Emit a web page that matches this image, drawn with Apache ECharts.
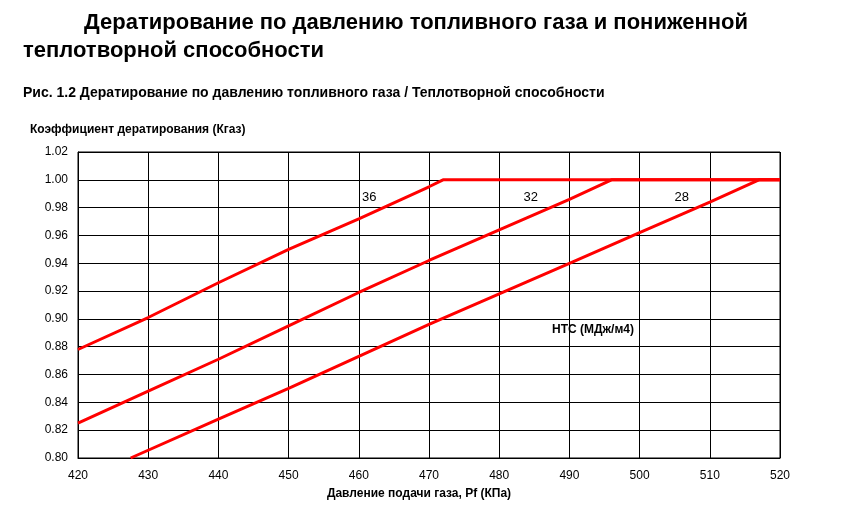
<!DOCTYPE html>
<html><head><meta charset="utf-8">
<script src="https://cdn.jsdelivr.net/npm/echarts@6/dist/echarts.min.js"></script>
<style>body{margin:0;background:#fff}#c{width:842px;height:520px}</style>
</head><body><div id="c"></div>
<script>
// НТС 36, 32, 28 — [давление, Кгаз]
let hts36 = [[420, 0.878], [430, 0.901], [440, 0.926], [450, 0.950], [460, 0.972], [470, 0.995], [472, 1.0], [520, 1.0]];
let hts32 = [[420, 0.825], [430, 0.848], [440, 0.871], [450, 0.895], [460, 0.919], [470, 0.942], [480, 0.964], [490, 0.986], [496, 1.0], [520, 1.0]];
let hts28 = [[427.5, 0.80], [440, 0.828], [450, 0.850], [460, 0.873], [470, 0.896], [480, 0.918], [490, 0.940], [500, 0.962], [510, 0.984], [517, 1.0], [520, 1.0]];
let curveNames = ['36', '32', '28'];
let labelAt = [[461.5, 0.987], [484.5, 0.987], [506, 0.987]];

let chart = echarts.init(document.getElementById('c'));
let font = 'Liberation Sans, Arial, sans-serif';

function mkSeries(data, i) {
    return {
        type: 'line', data: data, symbol: 'none', silent: true,
        lineStyle: { color: '#ff0000', width: 3 },
        markPoint: {
            symbol: 'circle', symbolSize: 1,
            itemStyle: { color: 'transparent' },
            label: { show: true, position: 'inside', color: '#000', fontSize: 13, fontFamily: font, formatter: curveNames[i] },
            data: [{ coord: labelAt[i] }]
        }
    };
}

chart.setOption({
    animation: false,
    backgroundColor: '#fff',
    title: [{
        text: '          Дератирование по давлению топливного газа и пониженной\nтеплотворной способности',
        left: 18, top: 4,
        textStyle: { fontSize: 22, fontWeight: 'bold', fontFamily: font, color: '#000', lineHeight: 28 }
    }, {
        text: 'Рис. 1.2 Дератирование по давлению топливного газа / Теплотворной способности',
        left: 18, top: 81,
        textStyle: { fontSize: 14, fontWeight: 'bold', fontFamily: font, color: '#000' }
    }],
    grid: { left: 78, right: 62, top: 152, bottom: 62, show: true, borderColor: '#000', borderWidth: 1 },
    xAxis: {
        type: 'value', min: 420, max: 520, interval: 10,
        name: 'Давление подачи газа, Pf (КПа)', nameLocation: 'middle', nameGap: 30,
        nameTextStyle: { fontSize: 12, fontWeight: 'bold', fontFamily: font, color: '#000', padding: [0, 0, 0, -20] },
        axisLine: { lineStyle: { color: '#000' } },
        axisTick: { show: false },
        axisLabel: { fontSize: 12, fontFamily: font, color: '#000', margin: 12 },
        splitLine: { lineStyle: { color: '#000', width: 1 } }
    },
    yAxis: {
        type: 'value', min: 0.8, max: 1.02, interval: 0.02,
        name: 'Коэффициент дератирования (Кгаз)', nameLocation: 'end', nameGap: 16,
        nameTextStyle: { fontSize: 12, fontWeight: 'bold', fontFamily: font, color: '#000', align: 'left', padding: [0, 0, 0, -48] },
        axisLine: { lineStyle: { color: '#000' } },
        axisTick: { show: false },
        axisLabel: { fontSize: 12, fontFamily: font, color: '#000', formatter: v => v.toFixed(2), margin: 10 },
        splitLine: { lineStyle: { color: '#000', width: 1 } }
    },
    graphic: [{
        type: 'text', left: 552, top: 324,
        style: { text: 'НТС (МДж/м4)', fontSize: 12, fontWeight: 'bold', fontFamily: font, fill: '#000' }
    }],
    series: [mkSeries(hts36, 0), mkSeries(hts32, 1), mkSeries(hts28, 2)]
});
</script>
</body></html>
